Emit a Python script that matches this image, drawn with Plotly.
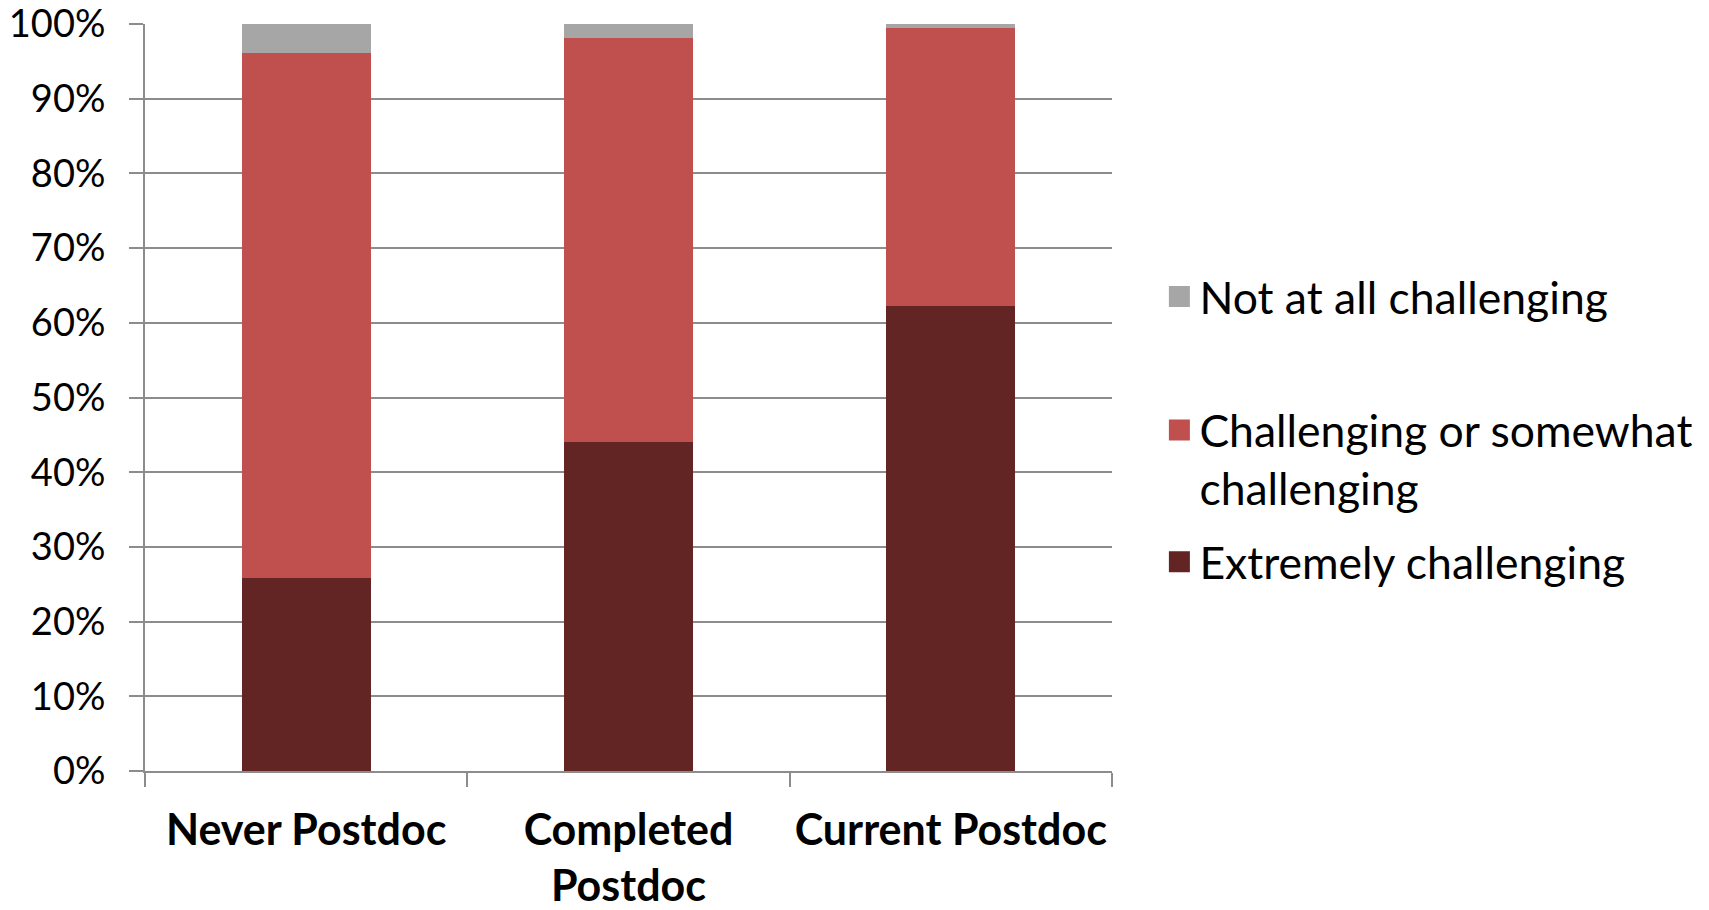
import plotly.graph_objects as go

categories = ["Never Postdoc", "Completed<br>Postdoc", "Current Postdoc"]
extremely = [25.8, 44.1, 62.2]
challenging = [70.3, 54.0, 37.2]
not_at_all = [3.9, 1.9, 0.6]

series_names = [
    "Extremely challenging",
    "Challenging or somewhat<br>challenging",
    "Not at all challenging",
]
series_colors = ["#632523", "#C0504D", "#A6A6A6"]
legend_slots = ["legend2", "legend2", "legend"]
tick_vals = [0, 10, 20, 30, 40, 50, 60, 70, 80, 90, 100]
tick_text = [f"{v}%" for v in tick_vals]

fig = go.Figure()
for name, vals, color in zip(series_names, [extremely, challenging, not_at_all], series_colors):
    fig.add_trace(go.Bar(
        x=categories, y=vals, name=name, showlegend=False,
        marker=dict(color=color, line=dict(width=0)),
    ))

# legend entries with larger square swatches, listed top-down
for name, color, slot in reversed(list(zip(series_names, series_colors, legend_slots))):
    fig.add_trace(go.Scatter(
        x=[None], y=[None], mode="markers", name=name, legendgroup=name, legend=slot,
        marker=dict(symbol="square", size=16, color=color, line=dict(color=color, width=5)),
    ))

font_family = "Lato, 'Open Sans', sans-serif"
legend_style = dict(
    xanchor="left", yanchor="middle", valign="top",
    font=dict(size=44.5), itemwidth=30, itemsizing="trace",
    bgcolor="rgba(0,0,0,0)",
)
fig.update_layout(
    width=1709, height=910,
    barmode="stack", bargap=0.6,
    plot_bgcolor="white", paper_bgcolor="white",
    margin=dict(l=145, r=597, t=24, b=139, autoexpand=False),
    font=dict(family=font_family, color="black", size=38),
    legend=dict(x=1.049, y=0.635, **legend_style),
    legend2=dict(x=1.049, y=0.368, traceorder="grouped", tracegroupgap=13, **legend_style),
)
fig.update_xaxes(
    showline=True, linecolor="#8c8c8c", linewidth=2,
    ticks="outside", tickson="boundaries", ticklen=14, tickcolor="#8c8c8c", tickwidth=2,
    tickfont=dict(size=43, family=font_family, weight="bold"),
    tickangle=0, ticklabelstandoff=20, automargin=False, ticklabeloverflow="allow",
)
fig.update_yaxes(
    range=[0, 100], tickvals=tick_vals, ticktext=tick_text,
    showline=True, linecolor="#8c8c8c", linewidth=2,
    showgrid=True, gridcolor="#8c8c8c", gridwidth=2,
    ticks="outside", ticklen=14, tickcolor="#8c8c8c", tickwidth=2,
    tickfont=dict(size=38), ticklabelstandoff=16,
    zeroline=False, automargin=False, ticklabeloverflow="allow",
)

fig.write_html("out.html")
